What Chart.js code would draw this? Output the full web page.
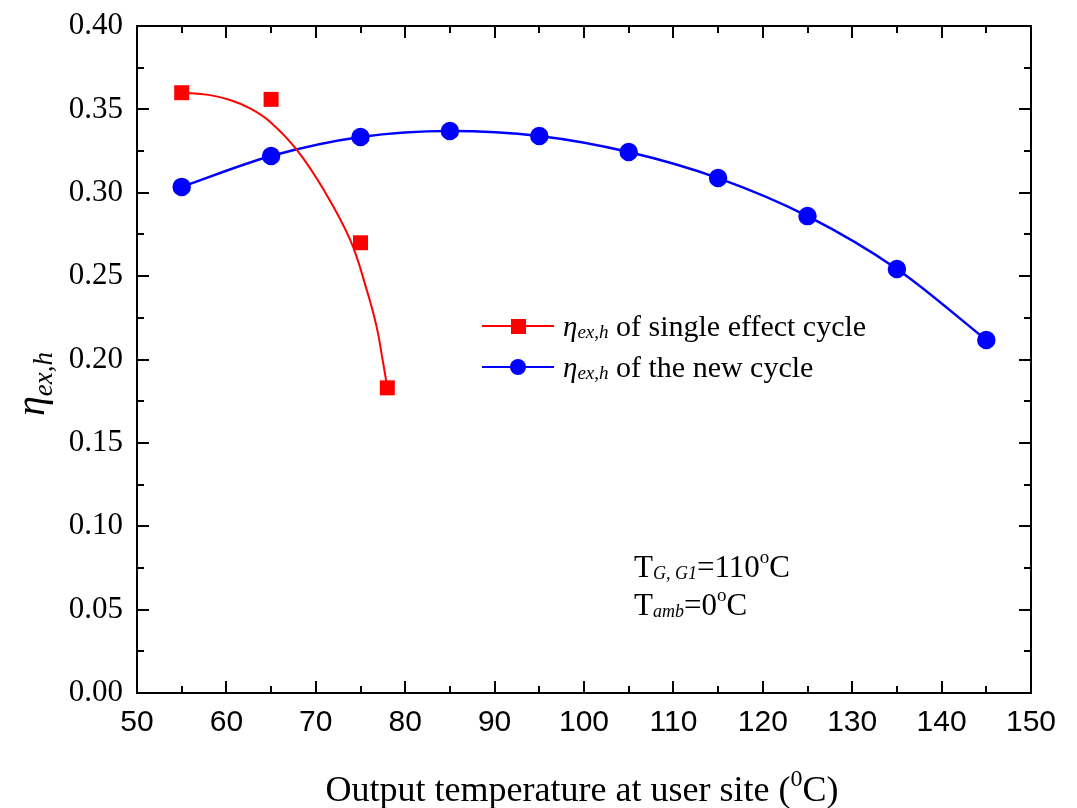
<!DOCTYPE html>
<html>
<head>
<meta charset="utf-8">
<script src="https://cdn.jsdelivr.net/npm/chart.js@4.4.0/dist/chart.umd.min.js"></script>
<style>
  html, body { margin: 0; padding: 0; background: #fff; }
  canvas { display: block; }
</style>
</head>
<body>
<canvas id="c" width="1077" height="808"></canvas>
<script>
// ---- data ----
const singleX = [55, 65, 75, 78];
const singleY = [0.360, 0.356, 0.270, 0.183];
// fitted curve for the single effect cycle
const singleFitX = [55, 58, 60.5, 62.65, 64.9, 67.9, 70.9, 73.85, 75.7, 76.8, 77.5, 78];
const singleFitY = [0.360, 0.3587, 0.3555, 0.3506, 0.3425, 0.3256, 0.3016, 0.2717, 0.2417, 0.2197, 0.199, 0.183];
const newX = [55, 65, 75, 85, 95, 105, 115, 125, 135, 145];
const newY = [0.3035, 0.322, 0.3334, 0.337, 0.334, 0.3244, 0.3088, 0.286, 0.2543, 0.2117];
const xTicks = [50, 60, 70, 80, 90, 100, 110, 120, 130, 140, 150];
const yTicks = [0.00, 0.05, 0.10, 0.15, 0.20, 0.25, 0.30, 0.35, 0.40];

const SERIF = '"Liberation Serif", "Times New Roman", serif';
const SANS = '"Liberation Sans", Arial, sans-serif';

function pts(xs, ys) { return xs.map((x, i) => ({ x: x, y: ys[i] })); }

function drawRich(ctx, x, y, parts) {
  let cx = x;
  for (const p of parts) {
    ctx.font = p.font;
    ctx.fillText(p.t, cx, y + (p.dy || 0));
    cx += ctx.measureText(p.t).width + (p.gap || 0);
  }
  return cx;
}
function richWidth(ctx, parts) {
  let w = 0;
  for (const p of parts) { ctx.font = p.font; w += ctx.measureText(p.t).width + (p.gap || 0); }
  return w;
}

const decor = {
  id: 'decor',
  afterDraw(chart) {
    const ctx = chart.ctx;
    const a = chart.chartArea;
    const xs = chart.scales.x, ys = chart.scales.y;
    ctx.save();
    ctx.strokeStyle = '#000';
    ctx.fillStyle = '#000';
    ctx.lineWidth = 2;
    // frame
    ctx.strokeRect(a.left, a.top, a.right - a.left, a.bottom - a.top);
    // ticks (inward, all four sides)
    ctx.beginPath();
    for (let v = 50; v <= 150; v += 5) {
      const px = Math.round(xs.getPixelForValue(v));
      const len = (v % 10 === 0) ? 12 : 7;
      ctx.moveTo(px, a.bottom); ctx.lineTo(px, a.bottom - len);
      ctx.moveTo(px, a.top); ctx.lineTo(px, a.top + len);
    }
    for (let i = 0; i <= 16; i++) {
      const v = i * 0.025;
      const py = Math.round(ys.getPixelForValue(v));
      const len = (i % 2 === 0) ? 12 : 7;
      ctx.moveTo(a.left, py); ctx.lineTo(a.left + len, py);
      ctx.moveTo(a.right, py); ctx.lineTo(a.right - len, py);
    }
    ctx.stroke();

    // legend
    ctx.textBaseline = 'alphabetic';
    ctx.textAlign = 'left';
    const rows = [
      { color: '#ff0000', shape: 'rect', y: 326, text: ' of single effect cycle' },
      { color: '#0000ff', shape: 'circle', y: 367, text: ' of the new cycle' }
    ];
    for (const r of rows) {
      ctx.strokeStyle = r.color; ctx.fillStyle = r.color; ctx.lineWidth = 2;
      ctx.beginPath(); ctx.moveTo(482, r.y); ctx.lineTo(554, r.y); ctx.stroke();
      ctx.beginPath();
      if (r.shape === 'rect') ctx.rect(511, r.y - 7, 15, 15);
      else ctx.arc(518, r.y, 8, 0, Math.PI * 2);
      ctx.fill();
      ctx.fillStyle = '#000';
      drawRich(ctx, 563, r.y + 10, [
        { t: 'η', font: 'italic 29px ' + SERIF },
        { t: 'ex,h', font: 'italic 19px ' + SERIF, dy: 2 },
        { t: r.text, font: '30px ' + SERIF }
      ]);
    }

    // annotation
    ctx.fillStyle = '#000';
    drawRich(ctx, 634, 577, [
      { t: 'T', font: '31px ' + SERIF },
      { t: 'G, G1', font: 'italic 18px ' + SERIF, dy: 2 },
      { t: '=110', font: '31px ' + SERIF },
      { t: 'o', font: '19px ' + SERIF, dy: -14 },
      { t: 'C', font: '31px ' + SERIF }
    ]);
    drawRich(ctx, 634, 615, [
      { t: 'T', font: '31px ' + SERIF },
      { t: 'amb', font: 'italic 18px ' + SERIF, dy: 2 },
      { t: '=0', font: '31px ' + SERIF },
      { t: 'o', font: '19px ' + SERIF, dy: -14 },
      { t: 'C', font: '31px ' + SERIF }
    ]);

    // x axis title
    const xt = [
      { t: 'Output temperature at user site (', font: '36px ' + SERIF },
      { t: '0', font: '24px ' + SERIF, dy: -15 },
      { t: 'C)', font: '36px ' + SERIF }
    ];
    const xw = richWidth(ctx, xt);
    drawRich(ctx, (a.left + a.right) / 2 - xw / 2 - 2, 801, xt);

    // y axis title
    ctx.save();
    ctx.translate(44, 384);
    ctx.rotate(-Math.PI / 2);
    const yt = [
      { t: 'η', font: 'italic 40px ' + SERIF },
      { t: 'ex,h', font: 'italic 27px ' + SERIF, dy: 8 }
    ];
    const yw = richWidth(ctx, yt);
    drawRich(ctx, -yw / 2, 0, yt);
    ctx.restore();

    ctx.restore();
  }
};

new Chart(document.getElementById('c'), {
  type: 'scatter',
  data: {
    datasets: [
      {
        label: 'single fit',
        data: pts(singleFitX, singleFitY),
        showLine: true,
        borderColor: '#ff0000',
        borderWidth: 2,
        pointRadius: 0,
        tension: 0.4,
        fill: false
      },
      {
        label: 'ηex,h of single effect cycle',
        data: pts(singleX, singleY),
        showLine: false,
        pointStyle: 'rect',
        pointRadius: 10.6,
        backgroundColor: '#ff0000',
        borderColor: '#ff0000',
        borderWidth: 0
      },
      {
        label: 'ηex,h of the new cycle',
        data: pts(newX, newY),
        showLine: true,
        borderColor: '#0000ff',
        borderWidth: 2.5,
        cubicInterpolationMode: 'monotone',
        pointStyle: 'circle',
        pointRadius: 8,
        backgroundColor: '#0000ff',
        fill: false
      }
    ]
  },
  options: {
    responsive: false,
    animation: false,
    layout: { padding: { left: 0, top: 26, right: 46, bottom: 0 } },
    plugins: { legend: { display: false }, tooltip: { enabled: false } },
    scales: {
      x: {
        type: 'linear',
        min: 50, max: 150,
        afterBuildTicks(s) { s.ticks = xTicks.map(v => ({ value: v })); },
        afterFit(s) { s.height = 115; s.paddingLeft = 0; s.paddingRight = 0; },
        grid: { display: false, drawTicks: false },
        border: { display: false },
        ticks: {
          font: { family: SANS, size: 30 },
          color: '#000',
          padding: 12,
          maxRotation: 0,
          callback: v => String(v)
        }
      },
      y: {
        type: 'linear',
        min: 0, max: 0.4,
        afterBuildTicks(s) { s.ticks = yTicks.map(v => ({ value: v })); },
        afterFit(s) { s.width = 137; s.paddingTop = 0; s.paddingBottom = 0; },
        grid: { display: false, drawTicks: false },
        border: { display: false },
        ticks: {
          font: { family: SERIF, size: 31 },
          color: '#000',
          padding: 14,
          callback: v => Number(v).toFixed(2)
        }
      }
    }
  },
  plugins: [decor]
});
</script>
</body>
</html>
